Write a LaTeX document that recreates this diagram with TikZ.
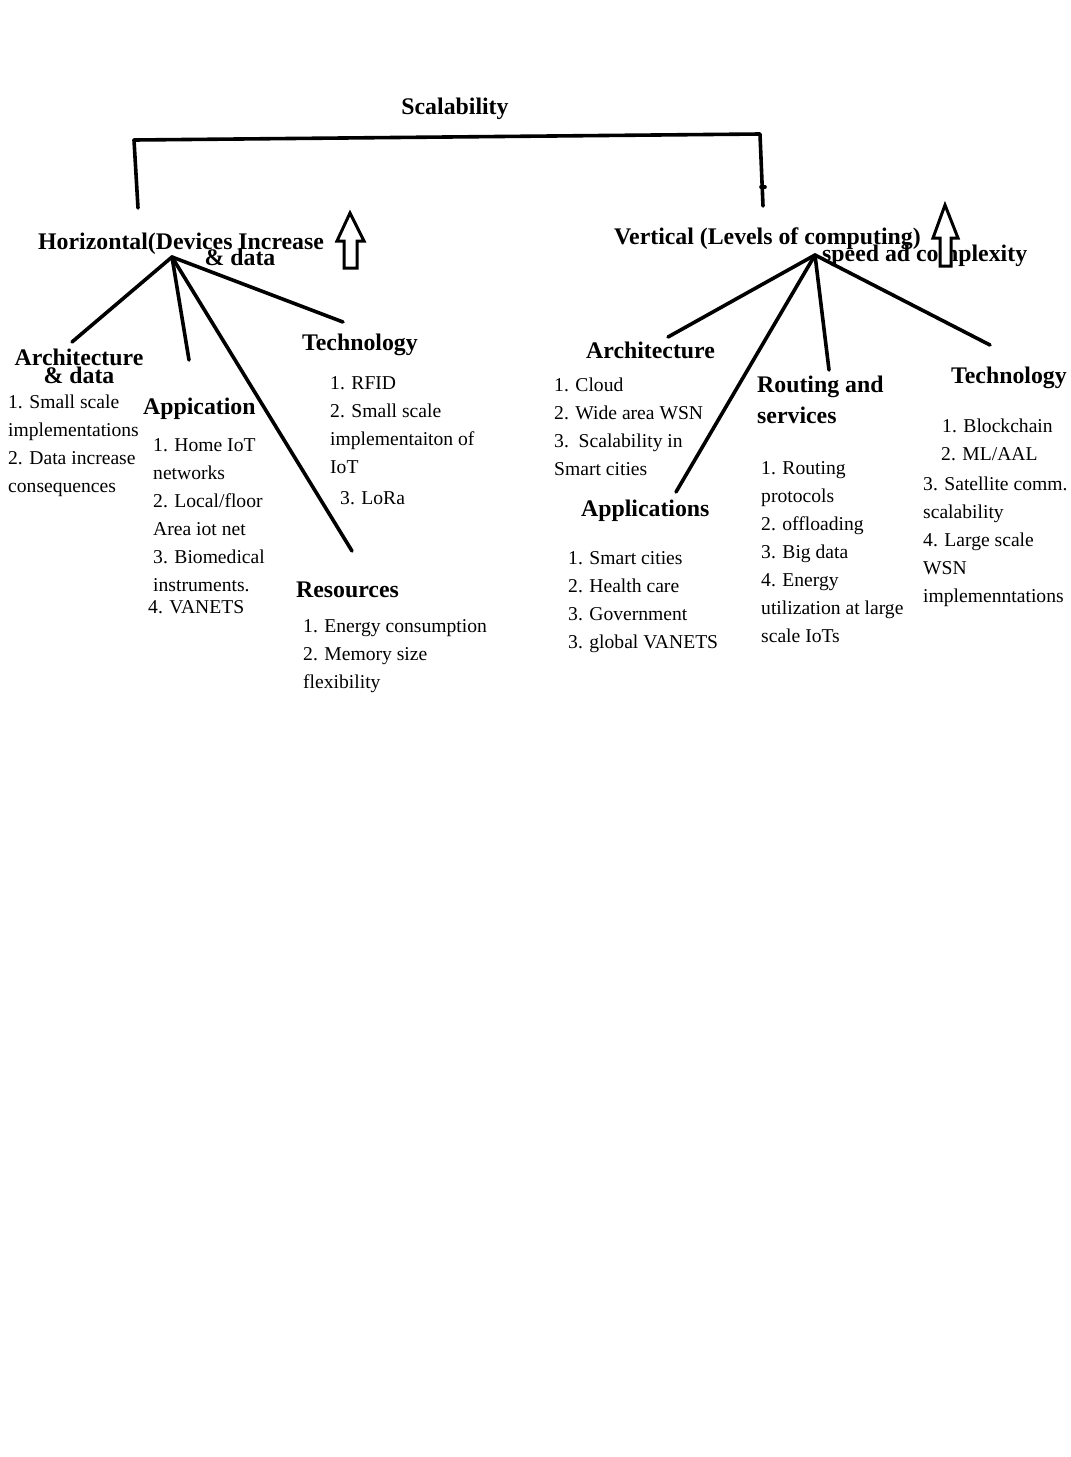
\documentclass[tikz,border=0pt]{standalone}
\usepackage{fontspec}
\setmainfont{Liberation Serif}
\begin{document}
\begin{tikzpicture}[x=1pt,y=-1pt,
  wire/.style={line width=3.6pt,line cap=round,line join=round},
  blockarrow/.style={draw,line width=3pt,line join=miter,fill=white},
  head/.style={font=\fontsize{23.8}{24}\selectfont\bfseries,inner sep=0pt,anchor=base west},
  items/.style={font=\fontsize{19.6}{28}\selectfont,inner sep=0pt,anchor=north west,align=left}]
\useasboundingbox (0,0) rectangle (1071,1457);

% title and the bracket joining the two branches
\node[head,anchor=base] (title) at (455,114) {Scalability};
\coordinate (brL) at (138,208);
\coordinate (brR) at (763,206);
\draw[wire] (brL) -- (134,140) -- (760,134) -- (brR);
\draw[wire] (761,187) -- (765,187);

% ---------- horizontal branch ----------
\node[head] (hor) at (38,249) {Horizontal(Devices Increase};
\node[head,anchor=base] (hordata) at (240,265) {\& data};
\coordinate (hubL) at (172,257);

\draw[blockarrow] (350,213) -- (364,241) -- (357,241) -- (357,268) -- (344,268) -- (344,241) -- (337,241) -- cycle;

\coordinate (endArchL) at (72,342);
\coordinate (endAppL) at (189,360);
\coordinate (endResL) at (352,551);
\coordinate (endTechL) at (343,322);
\draw[wire] (hubL) -- (endArchL);
\draw[wire] (hubL) -- (endAppL);
\draw[wire] (hubL) -- (endResL);
\draw[wire] (hubL) -- (endTechL);

\node[head,anchor=base,align=center,font=\fontsize{23.8}{18}\selectfont\bfseries] (archL) at (79,383) {Architecture\\\& data};
\node[items] (archLlist) at (8,395) {1. Small scale\\implementations\\2. Data increase\\consequences};

\node[head] (appL) at (143,414) {Appication};
\node[items] (appLlist) at (153,438) {1. Home IoT\\networks\\2. Local/floor\\Area iot net\\3. Biomedical\\instruments.\\[-6pt]\hspace*{-5pt}4. VANETS};

\node[head] (techL) at (302,350) {Technology};
\node[items] (techLlist) at (330,376) {1. RFID\\2. Small scale\\implementaiton of\\IoT\\[3pt]\hspace*{10pt}3. LoRa};

\node[head] (resL) at (296,597) {Resources};
\node[items] (resLlist) at (303,619) {1. Energy consumption\\2. Memory size\\flexibility};

% ---------- vertical branch ----------
\node[head] (ver) at (614,244) {Vertical (Levels of computing)};
\node[head] (speed) at (822,261) {speed ad complexity};
\coordinate (hubR) at (815,255);

\draw[blockarrow] (945,205) -- (958,238) -- (951,238) -- (951,266) -- (940,266) -- (940,238) -- (933,238) -- cycle;

\coordinate (endArchR) at (668,337);
\coordinate (endAppR) at (676,492);
\coordinate (endRoutR) at (829,370);
\coordinate (endTechR) at (990,345);
\draw[wire] (hubR) -- (endArchR);
\draw[wire] (hubR) -- (endAppR);
\draw[wire] (hubR) -- (endRoutR);
\draw[wire] (hubR) -- (endTechR);

\node[head] (archR) at (586,358) {Architecture};
\node[items] (archRlist) at (554,378) {1. Cloud\\2. Wide area WSN\\3.\ \ Scalability in\\Smart cities};

\node[head] (appR) at (581,516) {Applications};
\node[items] (appRlist) at (568,551) {1. Smart cities\\2. Health care\\3. Government\\3. global VANETS};

\node[head,align=left,anchor=base west,font=\fontsize{23.8}{31}\selectfont\bfseries] (routR) at (757,423) {Routing and\\services};
\node[items] (routRlist) at (761,461) {1. Routing\\protocols\\2. offloading\\3. Big data\\4. Energy\\utilization at large\\scale IoTs};

\node[head] (techR) at (951,383) {Technology};
\node[items] (techRlist) at (923,419) {\hspace*{19pt}1. Blockchain\\\hspace*{18pt}2. ML/AAL\\[2pt]3. Satellite comm.\\scalability\\4. Large scale\\WSN\\implemenntations};
\end{tikzpicture}
\end{document}
